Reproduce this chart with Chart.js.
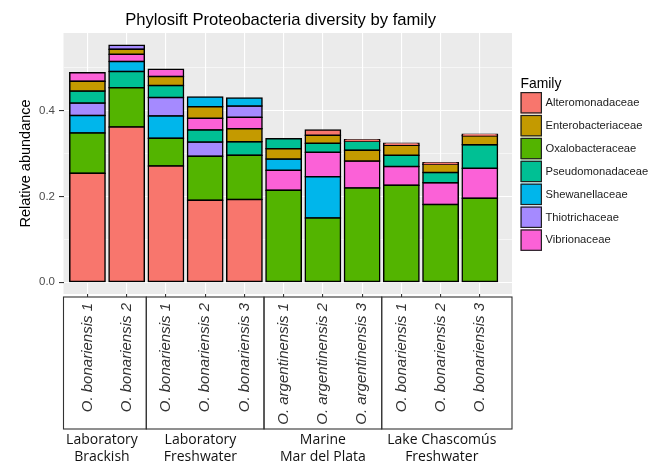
<!DOCTYPE html>
<html><head><meta charset="utf-8">
<script src="https://cdn.jsdelivr.net/npm/chart.js@4/dist/chart.umd.min.js"></script>
<style>html,body{margin:0;padding:0;background:#fff}#wrap{width:665px;height:469px;position:relative}</style>
</head><body><div id="wrap"><canvas id="c" width="665" height="469"></canvas></div>
<script>
// ---- data ----
const samples = ['O. bonariensis 1','O. bonariensis 2','O. bonariensis 1','O. bonariensis 2','O. bonariensis 3',
  'O. argentinensis 1','O. argentinensis 2','O. argentinensis 3','O. bonariensis 1','O. bonariensis 2','O. bonariensis 3'];
const groupLabels = [['Laboratory','Brackish'],['Laboratory','Freshwater'],['Marine','Mar del Plata'],['Lake Chascomús','Freshwater']];
const groupSizes = [2,3,3,3];
const families = ['Alteromonadaceae','Enterobacteriaceae','Oxalobacteraceae','Pseudomonadaceae','Shewanellaceae','Thiotrichaceae','Vibrionaceae'];
const familyColors = ['#F8766D','#C49A00','#53B400','#00C094','#00B6EB','#A58AFF','#FB61D7'];
const alteromonadaceae   = [0.254,0.362,0.271,0.191,0.193,0,0.012,0.0035,0.0045,0.0035,0.0035];
const enterobacteriaceae = [0.023,0.012,0.021,0.027,0.030,0.024,0.019,0.025,0.0235,0.019,0.021];
const oxalobacteraceae   = [0.094,0.092,0.065,0.103,0.103,0.2145,0.150,0.220,0.226,0.181,0.196];
const pseudomonadaceae   = [0.028,0.038,0.028,0.028,0.032,0.0235,0.021,0.021,0.026,0.024,0.055];
const shewanellaceae     = [0.041,0.023,0.052,0.023,0.019,0.026,0.096,0,0,0,0];
const thiotrichaceae     = [0.029,0.009,0.043,0.033,0.026,0,0,0,0,0,0];
const vibrionaceae       = [0.020,0.017,0.017,0.0275,0.027,0.047,0.057,0.063,0.044,0.051,0.070];
const yTickValues = [0,0.1,0.2,0.3,0.4,0.5];
const yTickLabels = {0:'0.0',0.2:'0.2',0.4:'0.4'};

// ---- build ----
const famValues = [alteromonadaceae,enterobacteriaceae,oxalobacteraceae,pseudomonadaceae,shewanellaceae,thiotrichaceae,vibrionaceae];
const floating = families.map(()=>[]);
samples.forEach((s,i)=>{
  const idx = families.map((f,k)=>k).filter(k=>famValues[k][i]>0)
    .sort((a,b)=>famValues[b][i]-famValues[a][i]);
  let base = 0;
  idx.forEach(k=>{ floating[k].push({x:i+1, y:[base, base+famValues[k][i]]}); base += famValues[k][i]; });
});
const groupCenters = [];
const groupBounds = [];
{ let c = 0; groupSizes.forEach(n=>{ groupCenters.push(c + (n+1)/2); c += n; groupBounds.push(c + 0.5); }); groupBounds.pop(); }
const groupLabelShift = [-0.13,-0.12,0,0.03];

const FONT = "'Liberation Sans', Arial, Helvetica, sans-serif";
const X_MIN = 0.39, X_MAX = 11.82, Y_MIN = -0.0277, Y_MAX = 0.5817;

const panelBg = { id:'panelBg', beforeDraw(chart){ const a=chart.chartArea, ctx=chart.ctx; ctx.save(); ctx.fillStyle='#EBEBEB'; ctx.fillRect(a.left,a.top,a.right-a.left,a.bottom-a.top); ctx.restore(); } };
const decor = { id:'decor', afterDraw(chart){
  const ctx = chart.ctx, a = chart.chartArea, xs = chart.scales.x;
  ctx.save();
  // title
  ctx.fillStyle = '#000'; ctx.font = '16.6px '+FONT; ctx.textAlign='center'; ctx.textBaseline='alphabetic';
  ctx.fillText('Phylosift Proteobacteria diversity by family', a.left + (a.right-a.left)*0.484, 25);
  // boxes around sample groups
  ctx.strokeStyle = '#333'; ctx.lineWidth = 1.1;
  const top = xs.top + 3, bot = xs.bottom;
  const edges = [a.left, ...groupBounds.map(v=>xs.getPixelForValue(v)), a.right];
  for (let g=0; g<edges.length-1; g++) ctx.strokeRect(edges[g], top, edges[g+1]-edges[g], bot-top);
  // legend
  const lx = a.right + 8.5;
  ctx.textAlign='left'; ctx.fillStyle='#000'; ctx.font='13.9px '+FONT; ctx.textBaseline='alphabetic';
  ctx.fillText('Family', lx, 88);
  ctx.font='11.2px '+FONT; ctx.textBaseline='middle';
  chart.data.datasets.forEach((ds,k)=>{
    const y = 92 + k*22.9;
    ctx.fillStyle = ds.backgroundColor; ctx.fillRect(lx, y, 21.5, 21.5);
    ctx.strokeStyle = '#222'; ctx.lineWidth = 1.2; ctx.strokeRect(lx+0.6, y+0.6, 20.3, 20.3);
    ctx.fillStyle = '#1a1a1a'; ctx.fillText(ds.label, lx + 25, y + 11);
  });
  ctx.restore();
} };

new Chart(document.getElementById('c'), {
  type: 'bar',
  data: { datasets: families.map((f,k)=>({
    label: f, data: floating[k], backgroundColor: familyColors[k], borderColor: '#000', borderWidth: 1.5,
    inflateAmount: 0.75, borderSkipped: false, grouped: false, barPercentage: 0.9, categoryPercentage: 1 })) },
  options: {
    responsive: false, animation: false, devicePixelRatio: 1,
    layout: { padding: { top: 33, right: 153, left: 0, bottom: 0 } },
    plugins: { legend: { display: false }, tooltip: { enabled: false }, title: { display: false } },
    scales: {
      x: { type: 'linear', position: 'bottom', min: X_MIN, max: X_MAX, offset: false, weight: 0,
        afterBuildTicks: s => { s.ticks = samples.map((_,i)=>({value:i+1})); },
        afterFit: s => { s.height = 135; },
        grid: { offset: false, color: '#FFFFFF', lineWidth: 1.1, tickColor: '#333333', tickLength: 3, tickWidth: 1.1 },
        border: { display: false },
        ticks: { autoSkip: false, minRotation: 90, maxRotation: 90, padding: 6, color: '#333333',
          font: { family: FONT, size: 15, style: 'italic' },
          callback: v => samples[Math.round(v)-1] }
      },
      x2: { type: 'linear', position: 'bottom', min: X_MIN, max: X_MAX, offset: false, weight: 1,
        afterBuildTicks: s => { s.ticks = groupCenters.map((v,i)=>({value:v + groupLabelShift[i]})); },
        afterFit: s => { s.height = 40; },
        grid: { display: false, drawTicks: false, offset: false }, border: { display: false },
        ticks: { autoSkip: false, maxRotation: 0, minRotation: 0, padding: 3, color: '#111',
          font: { family: "'Open Sans', sans-serif", size: 14 },
          callback: (v, i) => groupLabels[i] }
      },
      y: { type: 'linear', min: Y_MIN, max: Y_MAX, bounds: 'data',
        afterBuildTicks: s => { s.ticks = yTickValues.map(v=>({value:v})); },
        afterFit: s => { s.width = 63.5; },
        grid: { color: '#FFFFFF',
          lineWidth: c => (c.tick && (Math.round(c.tick.value*10)%2===0) ? 1.1 : 0.55),
          tickColor: c => (c.tick && (Math.round(c.tick.value*10)%2===0) ? '#333333' : 'rgba(0,0,0,0)'),
          tickLength: 4.5, tickWidth: 1.1 },
        border: { display: false },
        ticks: { padding: 4, color: '#4D4D4D', font: { family: FONT, size: 11.5 },
          callback: v => { const k = Math.round(v*10)/10; return yTickLabels[k] !== undefined ? yTickLabels[k] : ''; } },
        title: { display: true, text: 'Relative abundance', color: '#000', font: { family: FONT, size: 14.5 }, padding: { top: 17.3, bottom: 0 } }
      }
    }
  },
  plugins: [panelBg, decor]
});
</script></body></html>
